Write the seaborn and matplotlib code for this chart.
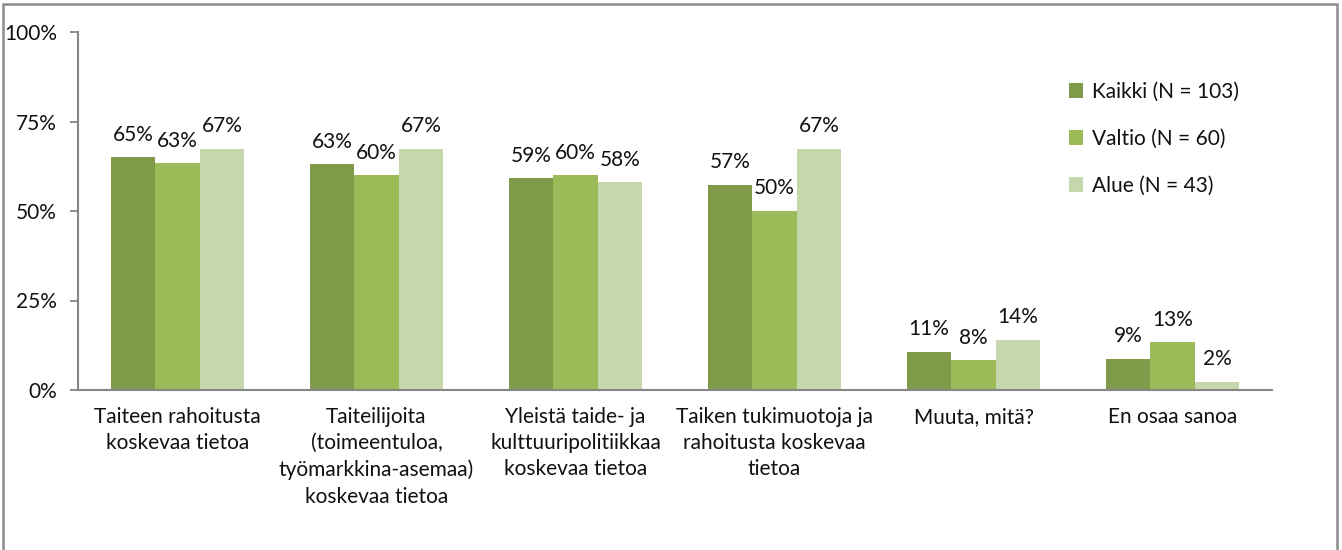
# Grouped bar chart: tiedon tarve (Kaikki / Valtio / Alue)
import pandas as pd
import matplotlib.pyplot as plt
import seaborn as sns
from matplotlib.patches import Rectangle
from matplotlib.ticker import FixedLocator

# DATA
categories = [
    "Taiteen rahoitusta\nkoskevaa tietoa",
    "Taiteilijoita\n(toimeentuloa,\ntyömarkkina-asemaa)\nkoskevaa tietoa",
    "Yleistä taide- ja\nkulttuuripolitiikkaa\nkoskevaa tietoa",
    "Taiken tukimuotoja ja\nrahoitusta koskevaa\ntietoa",
    "Muuta, mitä?",
    "En osaa sanoa",
]
groups = ["Kaikki (N = 103)", "Valtio (N = 60)", "Alue (N = 43)"]
kaikki = [65.0, 63.1, 59.2, 57.3, 10.7, 8.7]
valtio = [63.3, 60.0, 60.0, 50.0, 8.3, 13.3]
alue = [67.4, 67.4, 58.1, 67.4, 14.0, 2.3]
colors = ["#7F9B4A", "#9BBB59", "#C6D7AE"]

df = pd.DataFrame({
    "kategoria": categories * 3,
    "ryhma": [groups[0]] * 6 + [groups[1]] * 6 + [groups[2]] * 6,
    "osuus": kaikki + valtio + alue,
})

# STYLE
sns.set_style("white")
plt.rcParams["font.family"] = ["Lato", "DejaVu Sans"]
FS = 15
axis_col = "#868686"

fig = plt.figure(figsize=(13.42, 5.5), dpi=100)
ax = fig.add_axes([78 / 1342, 1 - 390 / 550, (1272 - 78) / 1342, 358 / 550])

sns.barplot(data=df, x="kategoria", y="osuus", hue="ryhma",
            palette=colors, width=0.67, linewidth=0, saturation=1,
            ax=ax, errorbar=None)

# data labels
for cont in ax.containers:
    ax.bar_label(cont, labels=[f"{v:.0f}%" for v in cont.datavalues],
                 padding=9, fontsize=FS, color="#111111")

ax.set_ylim(0, 100)
ax.set_xlim(-0.5, 5.5)
ax.set_yticks([0, 25, 50, 75, 100])
ax.set_yticklabels(["0%", "25%", "50%", "75%", "100%"], fontsize=FS, color="#111111")
ax.set_xticks(range(6))
ax.set_xticklabels(categories, fontsize=FS, linespacing=1.4, color="#111111")
ax.xaxis.set_minor_locator(FixedLocator([i - 0.5 for i in range(7)]))
ax.tick_params(axis="x", which="major", length=0, pad=12)
ax.tick_params(axis="x", which="minor", length=6, width=1.3, color=axis_col)
ax.tick_params(axis="y", length=6, width=1.3, color=axis_col, pad=9, left=True)
ax.set_xlabel("")
ax.set_ylabel("")

for side in ["top", "right"]:
    ax.spines[side].set_visible(False)
for side in ["left", "bottom"]:
    ax.spines[side].set_color(axis_col)
    ax.spines[side].set_linewidth(1.5)

# LEGEND
leg = ax.legend(loc="upper left", bbox_to_anchor=(1050 / 1342, 1 - 63 / 550),
                bbox_transform=fig.transFigure, frameon=False, fontsize=FS,
                handlelength=0.7, handleheight=0.7, handletextpad=0.4,
                labelspacing=1.3)
for t in leg.get_texts():
    t.set_color("#111111")

# outer frame
fig.patches.append(Rectangle((3 / 1342, -0.05), 1334 / 1342, 1.05 - 4 / 550,
                             transform=fig.transFigure, fill=False,
                             edgecolor="#8C8C8C", linewidth=1.8))

fig.savefig("out.png", dpi=100)
